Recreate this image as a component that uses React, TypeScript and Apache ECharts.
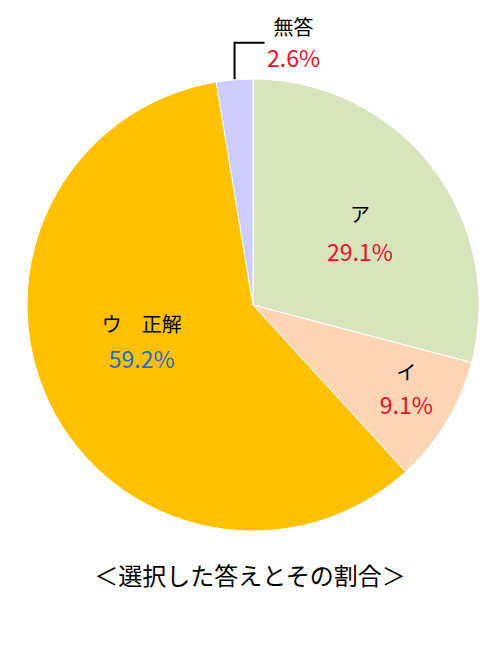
import React, { useEffect, useRef } from "react";
import * as echarts from "echarts";

const categories = ["ア", "イ", "ウ　正解", "無答"];
const values = [29.1, 9.1, 59.2, 2.6];
const sliceColors = ["#d8e4bc", "#fcd5b4", "#ffc000", "#ccccff"];
const pctColors = ["#e8102a", "#e8102a", "#1f6fbf", "#e8102a"];
const labelShifts = [[15, -2], [54, 23], [-7, -15]];
const lineHeights = [37, 32, 34, 30];
const titleText = "＜選択した答えとその割合＞";

const FONT = "'Noto Sans CJK JP', 'Noto Sans', sans-serif";

export default function App() {
  const ref = useRef<HTMLDivElement>(null);
  useEffect(() => {
    document.body.style.margin = "0";
    const chart = echarts.init(ref.current!, null, { renderer: "svg" });
    const data = categories.map((name, i) => ({
      name,
      value: values[i],
      itemStyle: { color: sliceColors[i] },
      label: {
        position: i === 3 ? "outside" : "inside",
        formatter: "{n|{b}}\n{p|{c}%}",
        rich: {
          n: { fontSize: 20, color: "#000", fontFamily: FONT, lineHeight: lineHeights[i], align: "center" },
          p: { fontSize: 23, color: pctColors[i], fontFamily: FONT, lineHeight: lineHeights[i], align: "center" },
        },
      },
      labelLine: {
        show: i === 3,
        lineStyle: { color: "#000", width: 2 },
      },
    }));
    chart.setOption({
      animation: false,
      backgroundColor: "#fff",
      title: {
        text: titleText,
        left: "center",
        top: 557,
        textStyle: { fontSize: 24, fontWeight: "normal", color: "#000", fontFamily: FONT },
      },
      series: [
        {
          type: "pie",
          center: [253, 305],
          radius: 226,
          startAngle: 90,
          clockwise: true,
          avoidLabelOverlap: false,
          itemStyle: { borderColor: "#fff", borderWidth: 1 },
          label: { show: true },
          labelLayout: (params: any) => {
            const i = params.dataIndex;
            if (i === 3) {
              const p0 = params.labelLinePoints ? params.labelLinePoints[0] : [235, 80];
              const x = p0[0];
              const y = p0[1];
              return {
                x: x + 59,
                y: y - 38,
                align: "center",
                verticalAlign: "middle",
                labelLinePoints: [
                  [x, y + 7],
                  [x, y - 37],
                  [x + 30, y - 37],
                ],
              };
            }
            return { dx: labelShifts[i][0], dy: labelShifts[i][1] };
          },
          data,
        },
      ],
    });
    return () => chart.dispose();
  }, []);
  return <div ref={ref} style={{ width: 500, height: 660 }} />;
}
